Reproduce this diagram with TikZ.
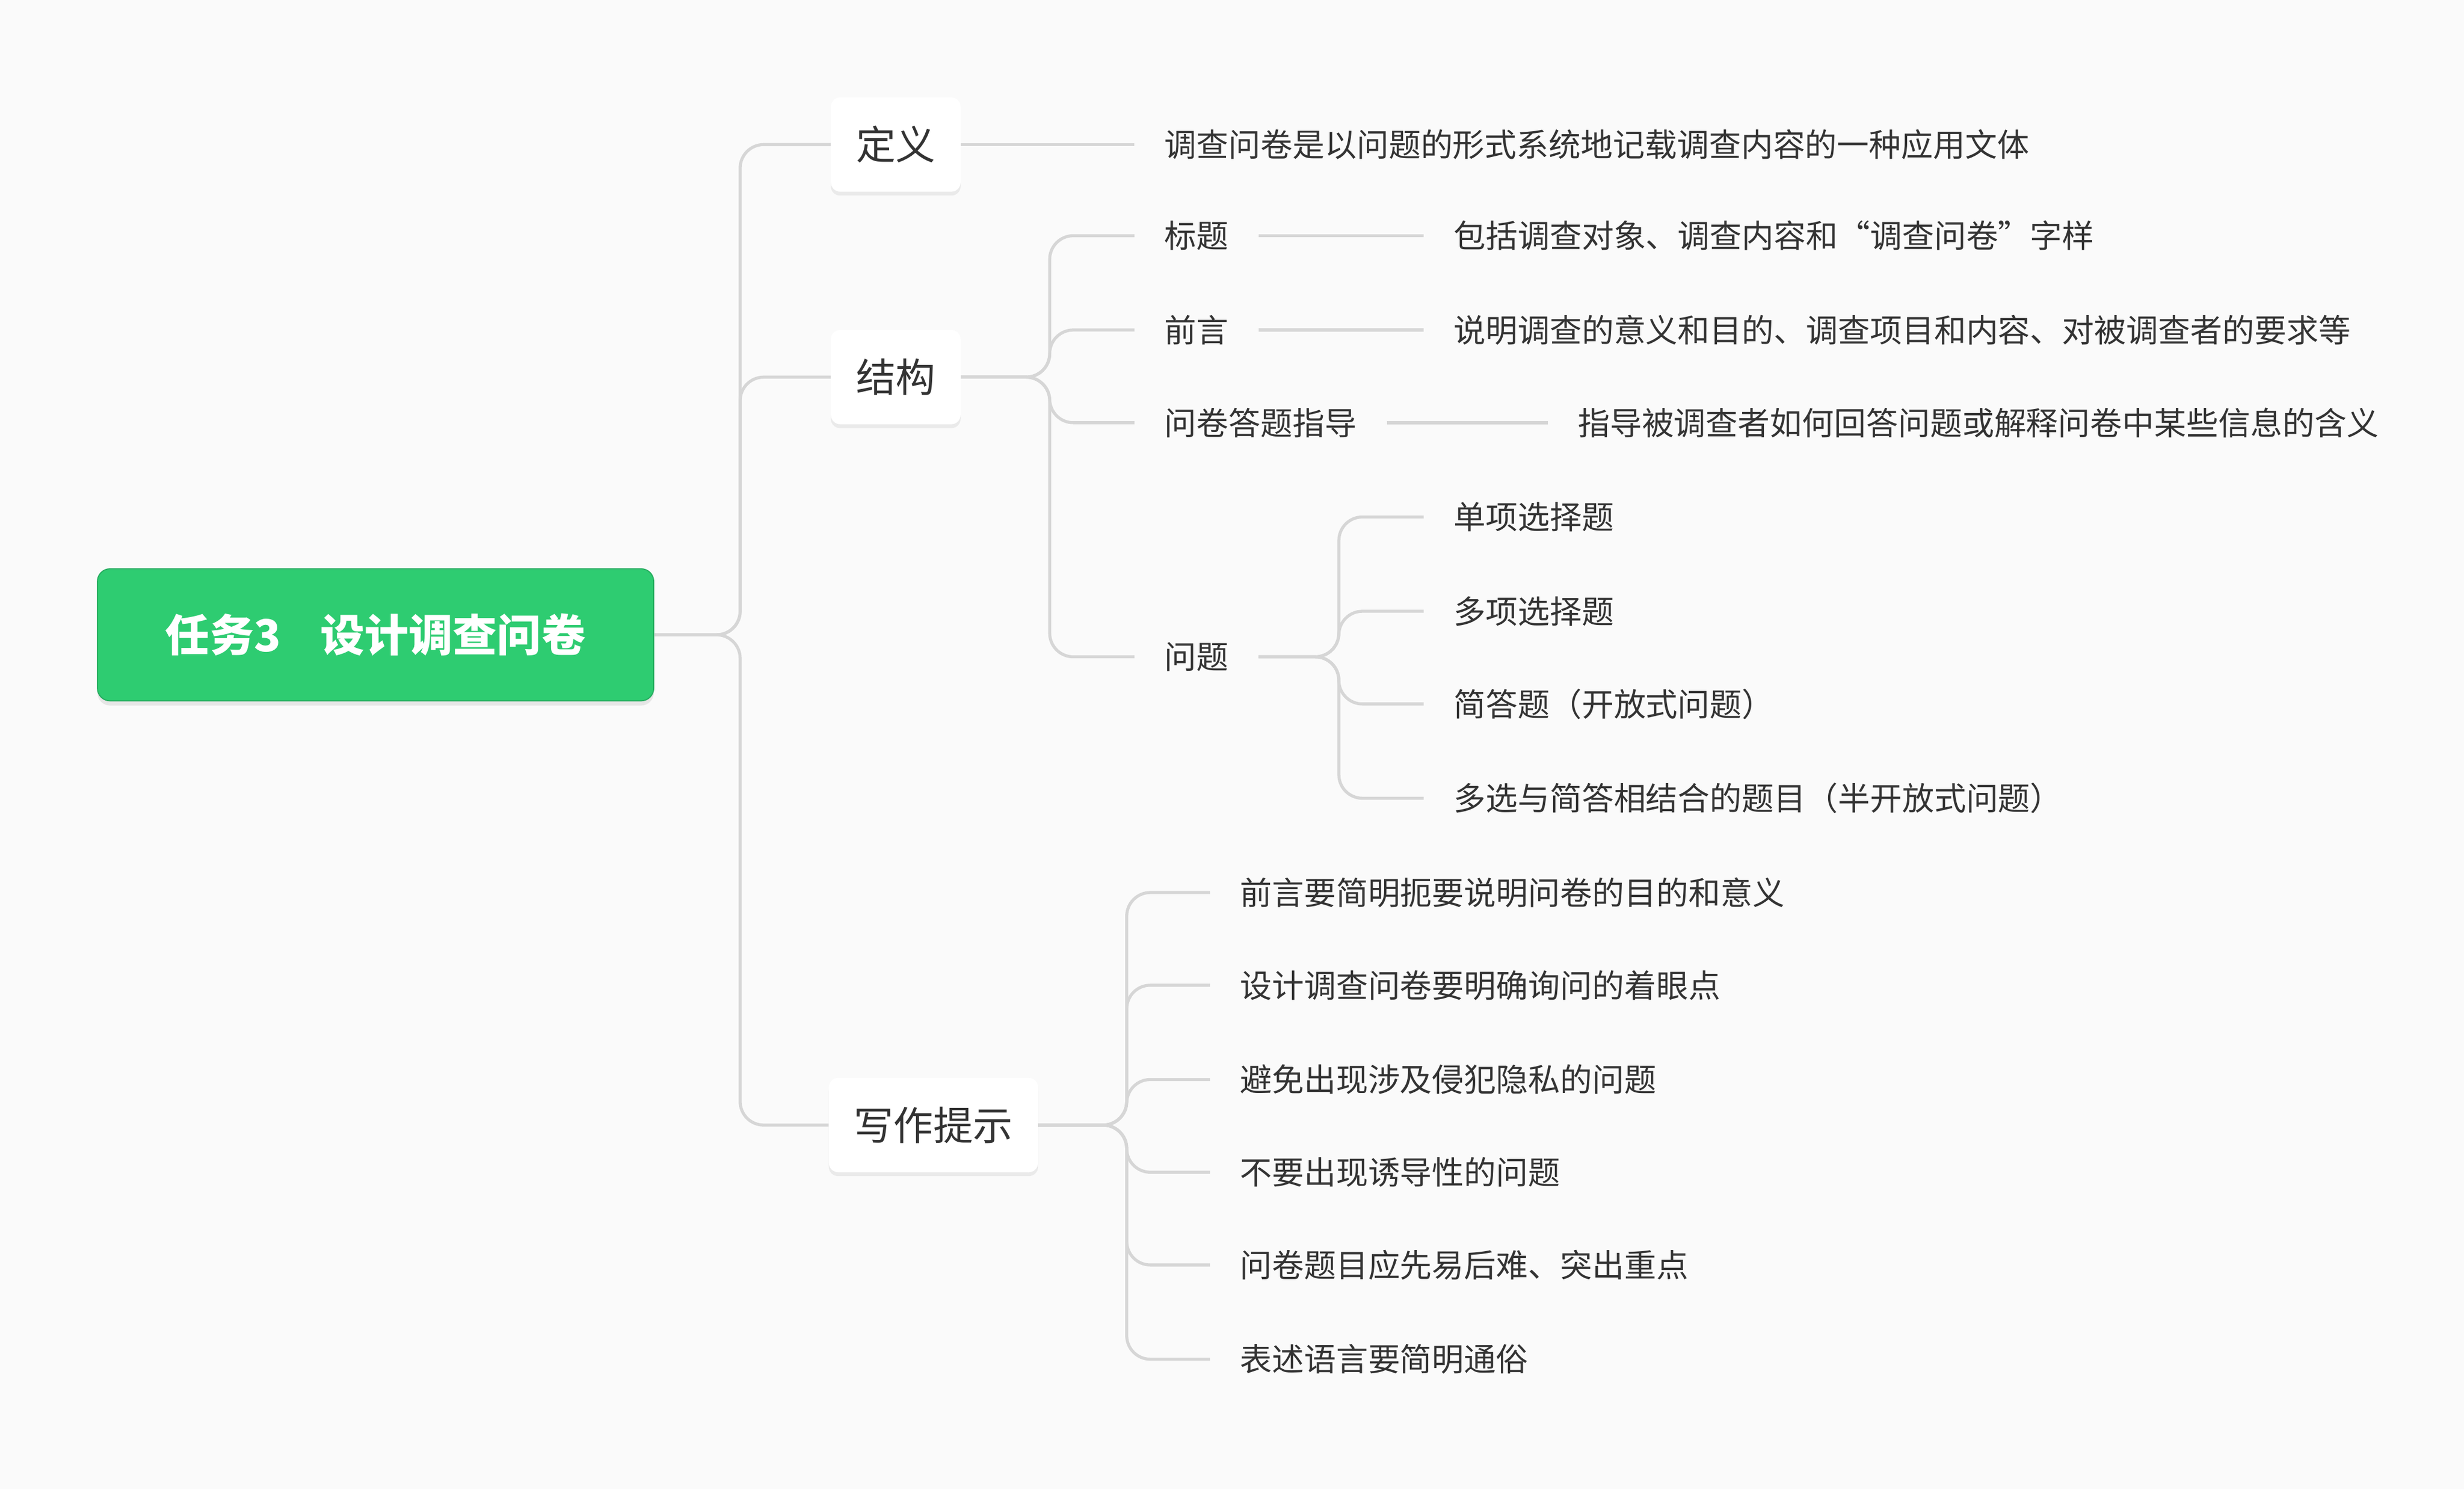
\documentclass[tikz,border=0pt]{standalone}
\usepackage{fontspec}
\setmainfont{Noto Sans CJK SC}
\usetikzlibrary{shadows}
\definecolor{bg}{HTML}{FAFAFA}
\definecolor{lnc}{HTML}{D6D6D6}
\definecolor{txt}{HTML}{333333}
\definecolor{grn}{HTML}{2ECC71}
\begin{document}
\begin{tikzpicture}[x=0.1cm,y=-0.1cm,
  ln/.style={draw=lnc,line width=5.5pt,rounded corners=1.5cm},
  lbl/.style={anchor=west,inner xsep=1.9cm,inner ysep=0pt,text=txt,font=\fontsize{58}{70}\selectfont},
  topic/.style={fill=white,draw=none,rounded corners=0.6cm,minimum height=6cm,inner xsep=1.6cm,text=txt,font=\fontsize{72}{86}\selectfont,
    drop shadow={shadow xshift=0pt,shadow yshift=-0.25cm,fill=black!12,opacity=0.6}}]
\fill[bg] (0,0) rectangle (1568,948);
\useasboundingbox (0,0) rectangle (1568,948);
\node[fill=grn,draw=grn!85!black,line width=2pt,rounded corners=0.8cm,minimum width=35.4cm,minimum height=8.4cm,text=white,font=\bfseries\fontsize{80}{96}\selectfont,
  drop shadow={shadow xshift=0pt,shadow yshift=-0.3cm,fill=black!15,opacity=0.6}] (root) at (239,404) {任务3\hspace{0.9em}设计调查问卷};
\node[topic] (dy) at (570,92) {定义};
\node[topic] (jg) at (570,240) {结构};
\node[topic] (xz) at (594,716) {写作提示};
\draw[ln] (root.east) -- (471,404) |- (dy.west);
\draw[ln] (root.east) -- (471,404) |- (jg.west);
\draw[ln] (root.east) -- (471,404) |- (xz.west);
% definition
\node[lbl] (d1) at (722,92) {调查问卷是以问题的形式系统地记载调查内容的一种应用文体};
\draw[ln] (dy.east) -- (d1.west);
% structure
\node[lbl] (s1) at (722,150) {标题};
\node[lbl] (s2) at (722,210) {前言};
\node[lbl] (s3) at (722,269) {问卷答题指导};
\node[lbl] (s4) at (722,418) {问题};
\foreach \n in {s1,s2,s3,s4} \draw[ln] (jg.east) -- (668,240) |- (\n.west);
\node[lbl] (s1a) at (906,150) {包括调查对象、调查内容和“调查问卷”字样};
\node[lbl] (s2a) at (906,210) {说明调查的意义和目的、调查项目和内容、对被调查者的要求等};
\node[lbl] (s3a) at (985,269) {指导被调查者如何回答问题或解释问卷中某些信息的含义};
\draw[ln] (s1.east) -- (s1a.west);
\draw[ln] (s2.east) -- (s2a.west);
\draw[ln] (s3.east) -- (s3a.west);
\node[lbl] (q1) at (906,329) {单项选择题};
\node[lbl] (q2) at (906,389) {多项选择题};
\node[lbl] (q3) at (906,448) {简答题（开放式问题）};
\node[lbl] (q4) at (906,508) {多选与简答相结合的题目（半开放式问题）};
\foreach \n in {q1,q2,q3,q4} \draw[ln] (s4.east) -- (852,418) |- (\n.west);
% tips
\node[lbl] (t1) at (770,568) {前言要简明扼要说明问卷的目的和意义};
\node[lbl] (t2) at (770,627) {设计调查问卷要明确询问的着眼点};
\node[lbl] (t3) at (770,687) {避免出现涉及侵犯隐私的问题};
\node[lbl] (t4) at (770,746) {不要出现诱导性的问题};
\node[lbl] (t5) at (770,805) {问卷题目应先易后难、突出重点};
\node[lbl] (t6) at (770,865) {表述语言要简明通俗};
\foreach \n in {t1,t2,t3,t4,t5,t6} \draw[ln] (xz.east) -- (717,716) |- (\n.west);
\end{tikzpicture}
\end{document}
